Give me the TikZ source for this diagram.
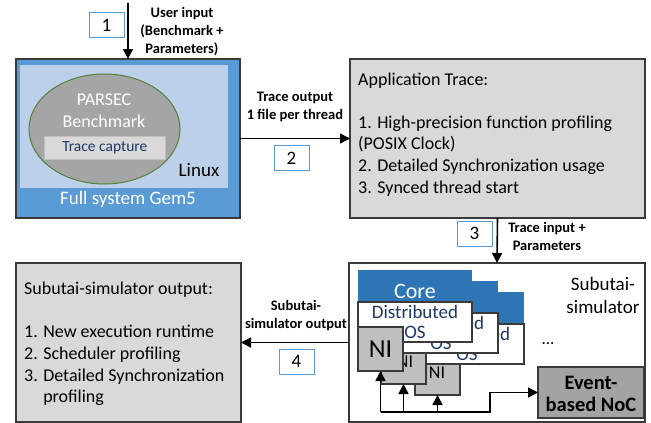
\documentclass[tikz,border=0pt]{standalone}
\usepackage{fontspec}
\setmainfont{Carlito}
\usetikzlibrary{arrows.meta,shapes.geometric}
\definecolor{gemblue}{HTML}{5B9BD5}
\definecolor{linuxblue}{HTML}{BDD0EA}
\definecolor{ellgray}{HTML}{A5A5A5}
\definecolor{ellgreen}{HTML}{548235}
\definecolor{lgray}{HTML}{D9D9D9}
\definecolor{navy}{HTML}{1F3864}
\definecolor{coreblue}{HTML}{2E75B6}
\definecolor{nigray}{HTML}{BFBFBF}
\definecolor{nocgray}{HTML}{A3A3A3}
\definecolor{edge}{HTML}{3A3A3A}
\begin{document}
\begin{tikzpicture}[x=1pt,y=-1pt,
  rbox/.style={draw=edge, line width=1.2pt, anchor=north west, inner sep=0pt, outer sep=0pt},
  numbox/.style={draw=gemblue, line width=1pt, fill=white, minimum width=35pt, minimum height=25pt, inner sep=0pt, font=\fontsize{19}{19}\selectfont},
  lbl/.style={align=center, font=\fontsize{14.5}{18}\selectfont\bfseries, inner sep=0pt},
  body/.style={align=left, anchor=north west, inner sep=0pt, font=\fontsize{18}{21.6}\selectfont},
  arr/.style={line width=1.6pt, -{Triangle[length=10pt,width=10pt]}},
  hdr/.style={fill=coreblue, anchor=north west, minimum width=114pt, minimum height=32pt, inner sep=0pt, outer sep=0pt},
  osbox/.style={rbox, fill=white, minimum width=114pt, minimum height=40pt},
  ostext/.style={align=center, text=navy, inner sep=0pt, font=\fontsize{19}{20}\selectfont},
  nibox/.style={rbox, fill=nigray, minimum width=45pt, minimum height=44pt}
]
\useasboundingbox (0,0) rectangle (651,423);

% ---------- Gem5 block ----------
\node[rbox, fill=gemblue, minimum width=224pt, minimum height=159pt] (gem) at (16,59) {};
\node[fill=linuxblue, anchor=north west, inner sep=0pt, minimum width=208pt, minimum height=123pt] (linux) at (20,65) {};
\node[ellipse, draw=ellgreen, line width=1pt, fill=ellgray, minimum width=151pt, minimum height=110pt, inner sep=0pt] (ell) at (104.5,129) {};
\node[text=white, align=center, inner sep=0pt, font=\fontsize{18}{22}\selectfont] (parsec) at (104,111) {PARSEC\\Benchmark};
\node[fill=lgray, draw=nigray, line width=0.6pt, anchor=north west, inner sep=0pt, minimum width=121pt, minimum height=23pt] (tcap) at (44,136) {};
\node[text=navy, inner sep=0pt, font=\fontsize{15.5}{15.5}\selectfont] (tcaptxt) at (tcap.center) {Trace capture};
\node[inner sep=0pt, font=\fontsize{19}{19}\selectfont] (linuxtxt) at (199,170) {Linux};
\node[text=white, inner sep=0pt, font=\fontsize{19}{19}\selectfont] (gemtxt) at (128,199) {Full system Gem5};

% ---------- Application trace ----------
\node[rbox, fill=lgray, minimum width=295pt, minimum height=159pt] (app) at (350,59) {};
\node[body] (apptxt) at (358,72.5) {Application Trace:\\[21.6pt]1. High-precision function profiling\\(POSIX Clock)\\2. Detailed Synchronization usage\\3. Synced thread start};

% ---------- Subutai simulator ----------
\node[rbox, fill=white, minimum width=296pt, minimum height=159pt] (sub) at (349,263) {};
\node[align=center, inner sep=0pt, font=\fontsize{19}{23}\selectfont] (subtxt) at (603,295) {Subutai-\\simulator};
\node[inner sep=0pt, font=\fontsize{17}{17}\selectfont] (dots) at (548,344) {...};

% core 3 (back)
\node[nibox] (ni3) at (415,351) {};
\node[inner sep=0pt, font=\fontsize{18}{18}\selectfont] (ni3t) at (437,373) {NI};
\node[hdr] (h3) at (410,292) {};
\node[osbox] (os3) at (410,324) {};
\node[ostext] (os3t) at (os3.center) {Distributed\\OS};
% core 2
\node[nibox] (ni2) at (381,340) {};
\node[inner sep=0pt, font=\fontsize{18}{18}\selectfont] (ni2t) at (405,362) {NI};
\node[hdr] (h2) at (384,281) {};
\node[osbox] (os2) at (384,313) {};
\node[ostext] (os2t) at (os2.center) {Distributed\\OS};
% core 1 (front)
\node[hdr] (h1) at (358,270) {};
\node[text=white, inner sep=0pt, font=\fontsize{22}{22}\selectfont] (coretxt) at (415,291) {Core};
\node[osbox] (os1) at (358,302) {};
\node[ostext] (os1t) at (os1.center) {Distributed\\OS};
\node[nibox] (ni1) at (358,327) {};
\node[inner sep=0pt, font=\fontsize{26}{26}\selectfont] (ni1t) at (ni1.center) {NI};

% NoC
\node[rbox, fill=nocgray, minimum width=106pt, minimum height=51pt] (noc) at (538,367) {};
\node[align=center, inner sep=0pt, font=\fontsize{20.5}{22}\selectfont\bfseries] (noctxt) at (591,394) {Event-\\based NoC};

% bus
\coordinate (bus) at (0,412);
\coordinate (bmid) at (490,412);
\draw[arr] (ni1.south |- bus) -- (bmid) |- (noc.west);
\draw[arr] (ni1.south |- bus) -- (ni1.south);
\draw[arr] (ni2.south |- bus) -- (ni2.south);
\draw[arr] (ni3.south |- bus) -- (ni3.south);

% ---------- Output block ----------
\node[rbox, fill=lgray, minimum width=225pt, minimum height=159pt] (out) at (16,263) {};
\node[body] (outtxt) at (24,282) {Subutai-simulator output:\\[21.6pt]1. New execution runtime\\2. Scheduler profiling\\3. Detailed Synchronization\\\phantom{3. }profiling};

% ---------- Connectors ----------
\coordinate (src) at (128,3);
\draw[arr] (src) -- (gem.north);
\node[numbox] (n1) at (106.5,25) {1};
\node[lbl] (l1) at (182,32) {User input\\(Benchmark +\\Parameters)};

\draw[arr] (gem.east) -- (app.west);
\node[lbl] (l2) at (295,107) {Trace output\\1 file per thread};
\node[numbox] (n2) at (291.5,158) {2};

\draw[arr] (app.south) -- (sub.north);
\node[numbox] (n3) at (474.5,233.5) {3};
\node[lbl] (l3) at (547,236) {Trace input +\\Parameters};

\draw[arr] (sub.west) -- (out.east);
\node[lbl] (l4) at (296,315.5) {Subutai-\\simulator output};
\node[numbox] (n4) at (296.5,361.5) {4};
\end{tikzpicture}
\end{document}
